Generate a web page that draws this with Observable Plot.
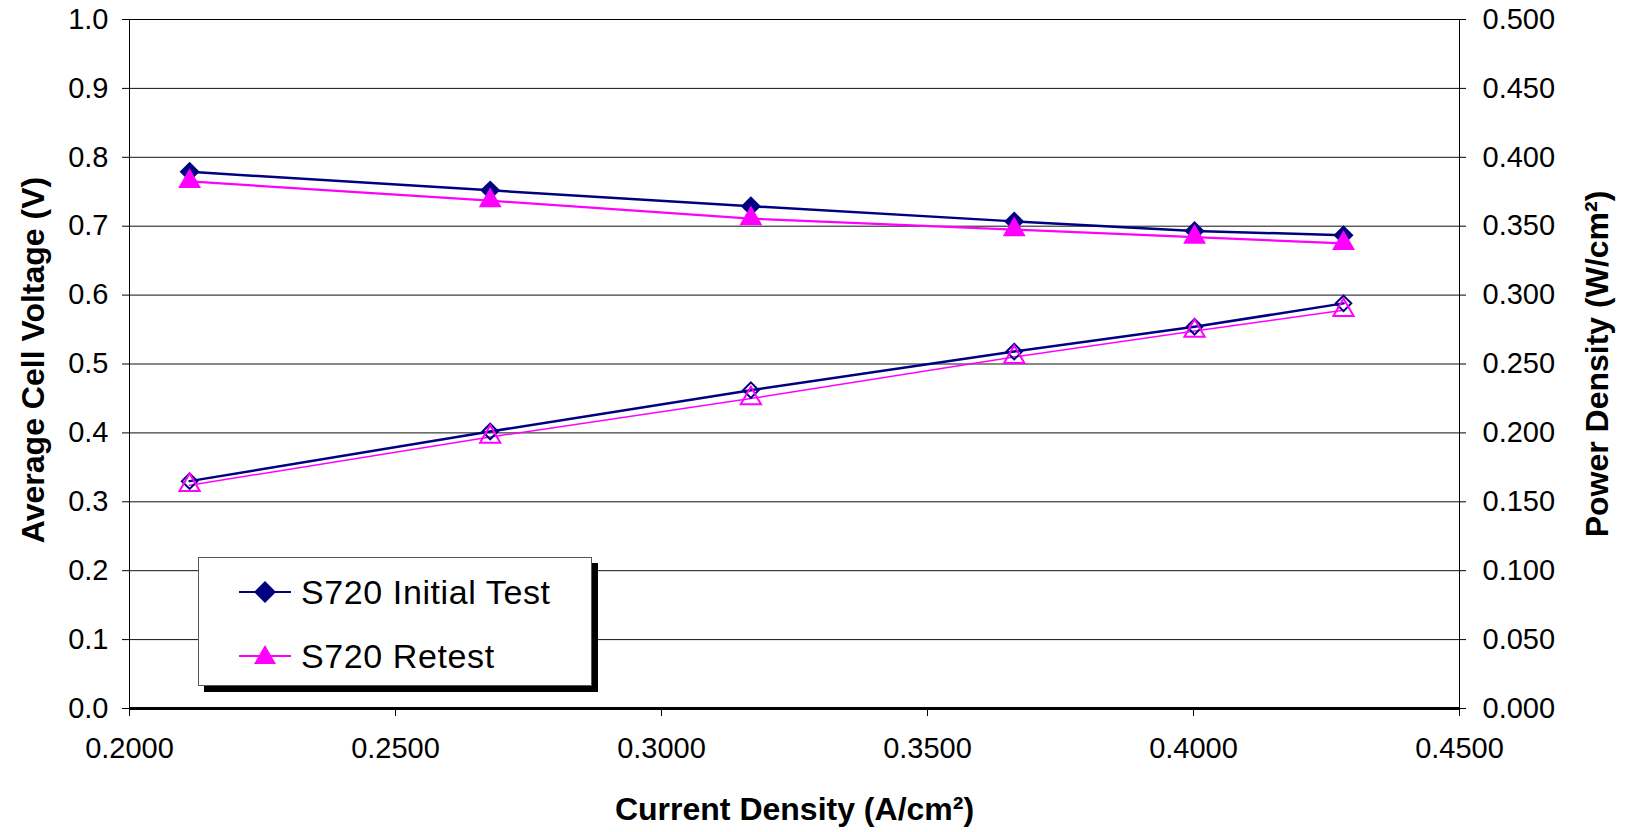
<!DOCTYPE html>
<html>
<head>
<meta charset="utf-8">
<script src="https://cdn.jsdelivr.net/npm/d3@7"></script>
<script src="https://cdn.jsdelivr.net/npm/@observablehq/plot@0.6"></script>
<style>
  html, body { margin: 0; padding: 0; background: #fff; }
  #wrap { position: relative; width: 1625px; height: 832px; font-family: "Liberation Sans", Arial, sans-serif; }
  #legend { position: absolute; left: 198px; top: 557px; width: 392px; height: 127px; background: #fff;
            border: 1px solid #555; box-shadow: 6px 6px 0 #000; }
  .row { position: absolute; left: 0; height: 40px; display: flex; align-items: center; }
  .row svg { margin-left: 40px; }
  .row span { margin-left: 10px; font-size: 34px; letter-spacing: 0.6px; color: #000; }
</style>
</head>
<body>
<div id="wrap"></div>
<script>
// Current density (A/cm²)
const current = [0.2113, 0.2678, 0.3168, 0.3663, 0.4002, 0.4282];
// Average cell voltage (V)
const voltageInitial = [0.779, 0.752, 0.729, 0.707, 0.693, 0.687];
const voltageRetest  = [0.765, 0.737, 0.711, 0.695, 0.684, 0.675];
// Power density (W/cm²)
const powerInitial = [0.165, 0.201, 0.231, 0.259, 0.277, 0.294];
const powerRetest  = [0.162, 0.197, 0.225, 0.255, 0.274, 0.289];

const seriesNames = ["S720 Initial Test", "S720 Retest"];
const seriesColors = ["#000080", "#FF00FF"];

const voltageTicks = [0, 0.1, 0.2, 0.3, 0.4, 0.5, 0.6, 0.7, 0.8, 0.9, 1.0];
const powerTicks = [0, 0.05, 0.1, 0.15, 0.2, 0.25, 0.3, 0.35, 0.4, 0.45, 0.5];
const currentTicks = [0.2, 0.25, 0.3, 0.35, 0.4, 0.45];

const powerMax = 0.5; // right axis top, aligned to left axis top (1.0)
const voltMax = 1.0;
const toLeft = p => p * voltMax / powerMax;

const rows = (v, p) => current.map((c, i) => ({c, v: v[i], p: toLeft(p[i])}));
const initial = rows(voltageInitial, powerInitial);
const retest = rows(voltageRetest, powerRetest);

const titleStyle = {fontWeight: "bold", fontSize: 32, textAnchor: "middle", lineAnchor: "middle"};

const chart = Plot.plot({
  width: 1625,
  height: 832,
  marginLeft: 129,
  marginRight: 166,
  marginTop: 19,
  marginBottom: 124,
  style: {fontFamily: "Liberation Sans, Arial, sans-serif", fontSize: "29px", color: "#000", background: "#fff"},
  x: {domain: [0.2, 0.45]},
  y: {domain: [0, 1]},
  marks: [
    Plot.gridY(voltageTicks.filter(d => d > 0), {stroke: "#111", strokeOpacity: 1, strokeWidth: 1}),
    Plot.frame({stroke: "#000", strokeWidth: 1}),
    Plot.axisY(voltageTicks, {anchor: "left", tickSize: 7, tickPadding: 14, tickFormat: d => d.toFixed(1), label: null}),
    Plot.axisY(powerTicks.map(toLeft), {anchor: "right", tickSize: 6, tickPadding: 17, tickFormat: (d, i) => powerTicks[i].toFixed(3), label: null}),
    Plot.axisX(currentTicks, {anchor: "bottom", tickSize: 8, tickPadding: 21, tickFormat: d => d.toFixed(4), label: null}),
    Plot.ruleY([0], {stroke: "#000", strokeWidth: 3}),
    // Voltage curves
    Plot.line(initial, {x: "c", y: "v", stroke: seriesColors[0], strokeWidth: 2.5}),
    Plot.line(retest, {x: "c", y: "v", stroke: seriesColors[1], strokeWidth: 2.2}),
    // Power curves
    Plot.line(initial, {x: "c", y: "p", stroke: seriesColors[0], strokeWidth: 2.5}),
    Plot.line(retest, {x: "c", y: "p", stroke: seriesColors[1], strokeWidth: 1.5}),
    Plot.dot(initial, {x: "c", y: "v", symbol: "diamond2", fill: seriesColors[0], r: 9, stroke: "none"}),
    Plot.dot(retest, {x: "c", y: "v", symbol: "triangle", fill: seriesColors[1], r: 8.5, stroke: "none"}),
    Plot.dot(initial, {x: "c", y: "p", symbol: "diamond2", stroke: seriesColors[0], fill: "none", r: 7, strokeWidth: 2}),
    Plot.dot(retest, {x: "c", y: "p", symbol: "triangle", stroke: seriesColors[1], fill: "none", r: 7.5, strokeWidth: 2}),
    // Axis titles
    Plot.text(["Average Cell Voltage (V)"], {frameAnchor: "left", dx: -96, dy: -4, rotate: -90, letterSpacing: 3, ...titleStyle}),
    Plot.text(["Power Density (W/cm²)"], {frameAnchor: "right", dx: 138, rotate: -90, letterSpacing: 0.9, ...titleStyle}),
    Plot.text(["Current Density (A/cm²)"], {frameAnchor: "bottom", dy: 101, letterSpacing: 0.9, ...titleStyle})
  ]
});

const wrap = document.getElementById("wrap");
wrap.appendChild(chart);

// Legend
const legend = document.createElement("div");
legend.id = "legend";
const symbols = [
  '<path d="M26,-11 L37,0 L26,11 L15,0 Z" />',
  '<path d="M26,-11 L37,8 L15,8 Z" />'
];
seriesNames.forEach((name, i) => {
  const row = document.createElement("div");
  row.className = "row";
  row.style.top = (i === 0 ? 14 : 78) + "px";
  row.innerHTML = `<svg width="52" height="30" viewBox="0 -15 52 30" style="overflow:visible">
    <line x1="0" x2="52" y1="0" y2="0" stroke="${seriesColors[i]}" stroke-width="2"/>
    <g fill="${seriesColors[i]}">${symbols[i]}</g></svg><span>${name}</span>`;
  legend.appendChild(row);
});
wrap.appendChild(legend);
</script>
</body>
</html>
